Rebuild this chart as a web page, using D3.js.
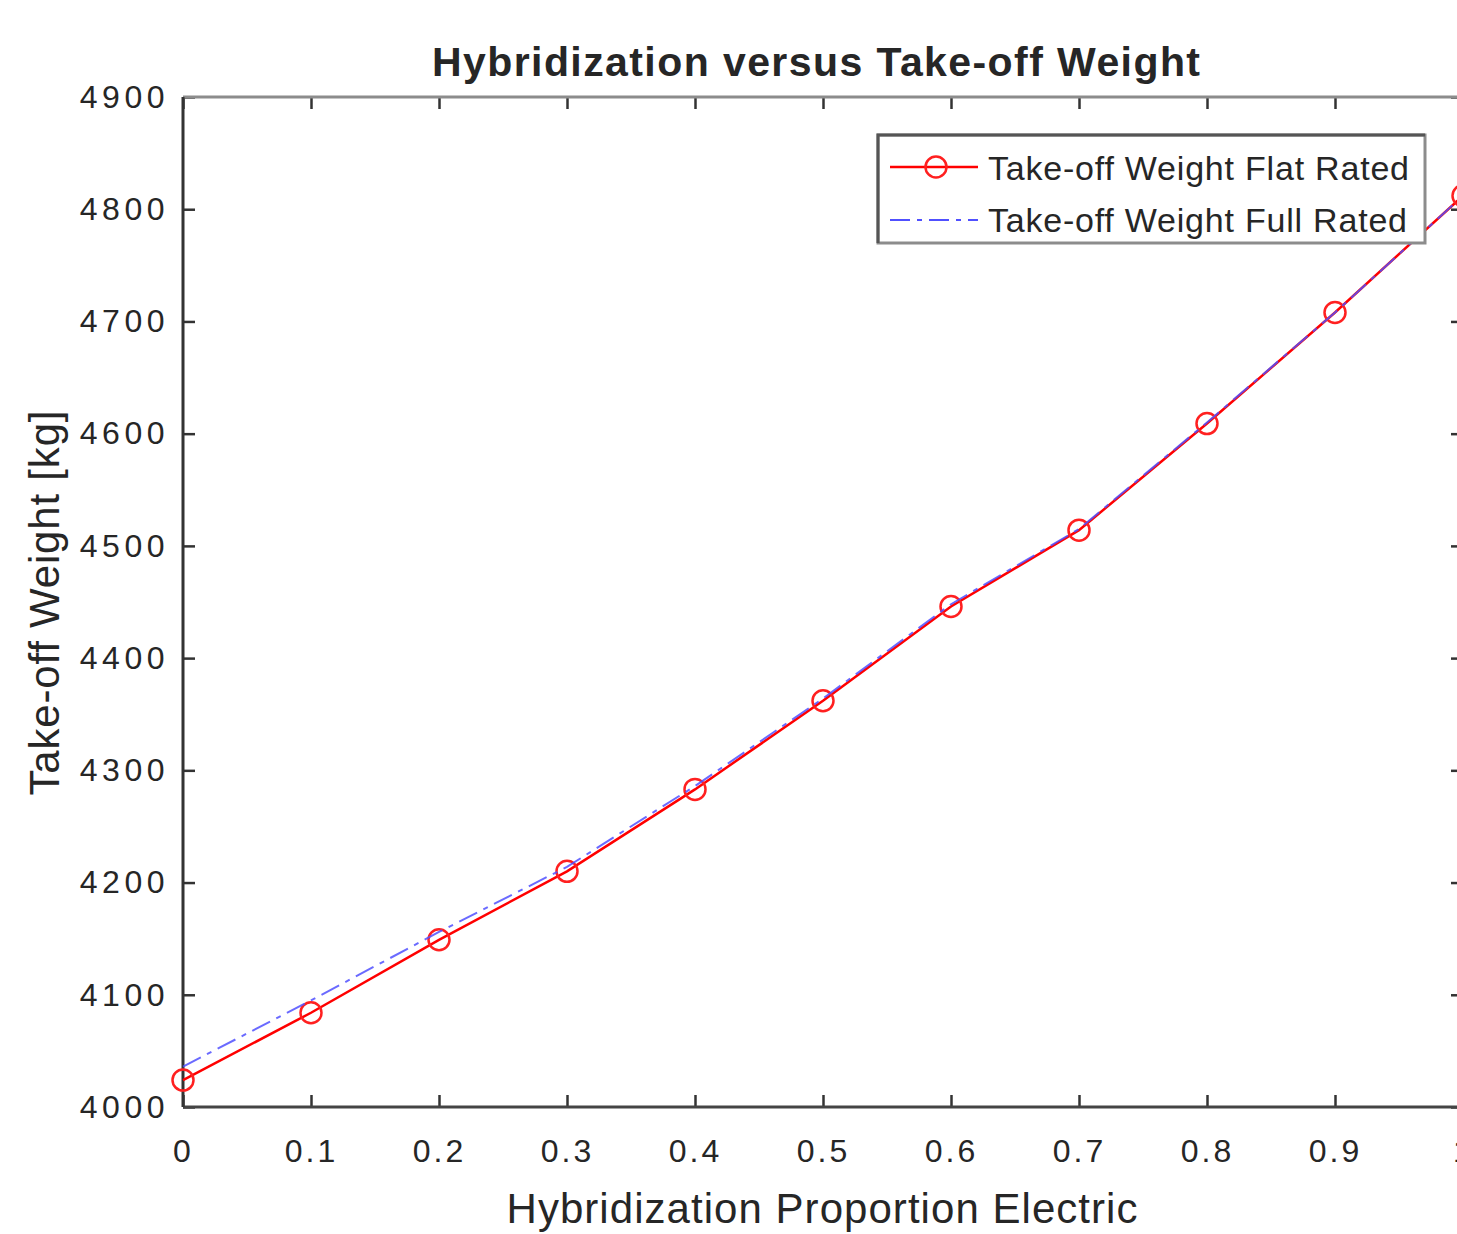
<!DOCTYPE html>
<html lang="en">

<head>
  <meta charset="UTF-8">
  <script src="https://d3js.org/d3.v7.min.js"></script>
  <title>Hybridization versus Take-off Weight</title>
  <style>
    body {
      margin: 0;
      background: white;
      overflow: hidden;
    }

    text {
      font-family: "Liberation Sans", Arial, sans-serif;
      fill: #262626;
    }
  </style>
</head>

<body>
  <div id="chart"></div>
  <script>
    // Data
    const hybridization = [0, 0.1, 0.2, 0.3, 0.4, 0.5, 0.6, 0.7, 0.8, 0.9, 1.0];
    const flatRated = [4024, 4084, 4149, 4210, 4283, 4362, 4446, 4514, 4609, 4708, 4812];
    const fullRated = [4036, 4095, 4156, 4214, 4286, 4364, 4448, 4515, 4610, 4708, 4812];
    const xTicks = [0, 0.1, 0.2, 0.3, 0.4, 0.5, 0.6, 0.7, 0.8, 0.9, 1];
    const yTicks = [4000, 4100, 4200, 4300, 4400, 4500, 4600, 4700, 4800, 4900];
    const seriesNames = ["Take-off Weight Flat Rated", "Take-off Weight Full Rated"];

    const width = 1457;
    const height = 1234;
    const margin = { top: 97, right: -6, bottom: 127, left: 183 };

    const svg = d3.select("#chart")
      .append("svg")
      .attr("width", width)
      .attr("height", height);

    const x = d3.scaleLinear()
      .domain([0, 1])
      .range([margin.left, width - margin.right]);

    const y = d3.scaleLinear()
      .domain([4000, 4900])
      .range([height - margin.bottom, margin.top]);

    const tickLen = 12;

    // Axes (ticks pointing inward, MATLAB style)
    const xAxis = svg.append("g")
      .attr("transform", `translate(0,${y(4000)})`)
      .call(d3.axisBottom(x).tickValues(xTicks).tickFormat(d3.format("")).tickSizeInner(-tickLen).tickSizeOuter(0).tickPadding(32));

    const yAxis = svg.append("g")
      .attr("transform", `translate(${x(0)},0)`)
      .call(d3.axisLeft(y).tickValues(yTicks).tickFormat(d3.format("d")).tickSizeInner(-tickLen).tickSizeOuter(0).tickPadding(14));

    svg.append("g")
      .attr("transform", `translate(0,${y(4900)})`)
      .call(d3.axisTop(x).tickValues(xTicks).tickFormat("").tickSizeInner(-tickLen).tickSizeOuter(0));

    svg.append("g")
      .attr("transform", `translate(${x(1)},0)`)
      .call(d3.axisRight(y).tickValues(yTicks).tickFormat("").tickSizeInner(-tickLen).tickSizeOuter(0));

    svg.selectAll(".domain").remove();
    svg.selectAll(".tick line").attr("stroke", "#333").attr("stroke-width", 2.5);

    [xAxis, yAxis].forEach(g => {
      g.attr("font-family", null).attr("font-size", null);
      g.selectAll("text")
        .style("font-size", "32px")
        .attr("fill", "#2a2a2a");
    });
    xAxis.selectAll("text").style("letter-spacing", "3px");
    yAxis.selectAll("text").style("letter-spacing", "4.5px");

    // Box
    svg.append("line")
      .attr("x1", x(0)).attr("x2", x(1))
      .attr("y1", y(4900)).attr("y2", y(4900))
      .attr("stroke", "#8c8c8c").attr("stroke-width", 3);
    svg.append("line")
      .attr("x1", x(1)).attr("x2", x(1))
      .attr("y1", y(4900)).attr("y2", y(4000))
      .attr("stroke", "#8c8c8c").attr("stroke-width", 3);
    svg.append("line")
      .attr("x1", x(0)).attr("x2", x(1))
      .attr("y1", y(4000)).attr("y2", y(4000))
      .attr("stroke", "#444").attr("stroke-width", 3);
    svg.append("line")
      .attr("x1", x(0)).attr("x2", x(0))
      .attr("y1", y(4900)).attr("y2", y(4000))
      .attr("stroke", "#333").attr("stroke-width", 3);

    // Lines
    const flatData = hybridization.map((h, i) => [h, flatRated[i]]);
    const fullData = hybridization.map((h, i) => [h, fullRated[i]]);

    const line = d3.line()
      .x(d => x(d[0]))
      .y(d => y(d[1]));

    svg.append("path")
      .datum(flatData)
      .attr("fill", "none")
      .attr("stroke", "#ff0000")
      .attr("stroke-width", 2.5)
      .attr("d", line);

    svg.append("g")
      .selectAll("circle")
      .data(flatData)
      .enter()
      .append("circle")
      .attr("cx", d => x(d[0]))
      .attr("cy", d => y(d[1]))
      .attr("r", 10.5)
      .attr("fill", "none")
      .attr("stroke", "#ff2020")
      .attr("stroke-width", 2.5);

    svg.append("path")
      .datum(fullData)
      .attr("fill", "none")
      .attr("stroke", "#5050ff")
      .attr("stroke-opacity", 0.85)
      .attr("stroke-width", 2)
      .attr("stroke-dasharray", "20,7,5,7")
      .attr("d", line);

    // Legend
    const legend = svg.append("g").attr("transform", "translate(878,135)");

    legend.append("rect")
      .attr("width", 547)
      .attr("height", 108)
      .attr("fill", "white")
      .attr("stroke", "#8c8c8c")
      .attr("stroke-width", 3);
    legend.append("path")
      .attr("d", "M0,108V0H547")
      .attr("fill", "none")
      .attr("stroke", "#555")
      .attr("stroke-width", 3);

    legend.append("line")
      .attr("x1", 12).attr("x2", 100)
      .attr("y1", 32).attr("y2", 32)
      .attr("stroke", "#ff0000").attr("stroke-width", 2.5);
    legend.append("circle")
      .attr("cx", 58).attr("cy", 32).attr("r", 10.5)
      .attr("fill", "none").attr("stroke", "#ff2020").attr("stroke-width", 2.5);
    legend.append("line")
      .attr("x1", 12).attr("x2", 100)
      .attr("y1", 85).attr("y2", 85)
      .attr("stroke", "#5050ff").attr("stroke-width", 2)
      .attr("stroke-dasharray", "20,7,5,7");

    legend.selectAll("text.entry")
      .data(seriesNames)
      .enter()
      .append("text")
      .attr("class", "entry")
      .attr("x", 110)
      .attr("y", (d, i) => 45 + i * 52)
      .attr("textLength", (d, i) => i === 0 ? 421 : 419)
      .attr("lengthAdjust", "spacing")
      .style("font-size", "34px")
      .text(d => d);

    // Title and axis labels
    svg.append("text")
      .attr("x", 816)
      .attr("y", 76)
      .attr("text-anchor", "middle")
      .attr("textLength", 768)
      .attr("lengthAdjust", "spacing")
      .style("font-size", "41px")
      .style("font-weight", "bold")
      .attr("fill", "#111")
      .text("Hybridization versus Take-off Weight");

    svg.append("text")
      .attr("x", 822)
      .attr("y", 1223)
      .attr("text-anchor", "middle")
      .attr("textLength", 631)
      .attr("lengthAdjust", "spacing")
      .style("font-size", "42px")
      .text("Hybridization Proportion Electric");

    svg.append("text")
      .attr("transform", "translate(59,603) rotate(-90)")
      .attr("text-anchor", "middle")
      .attr("textLength", 385)
      .attr("lengthAdjust", "spacing")
      .style("font-size", "42px")
      .text("Take-off Weight [kg]");
  </script>
</body>

</html>
